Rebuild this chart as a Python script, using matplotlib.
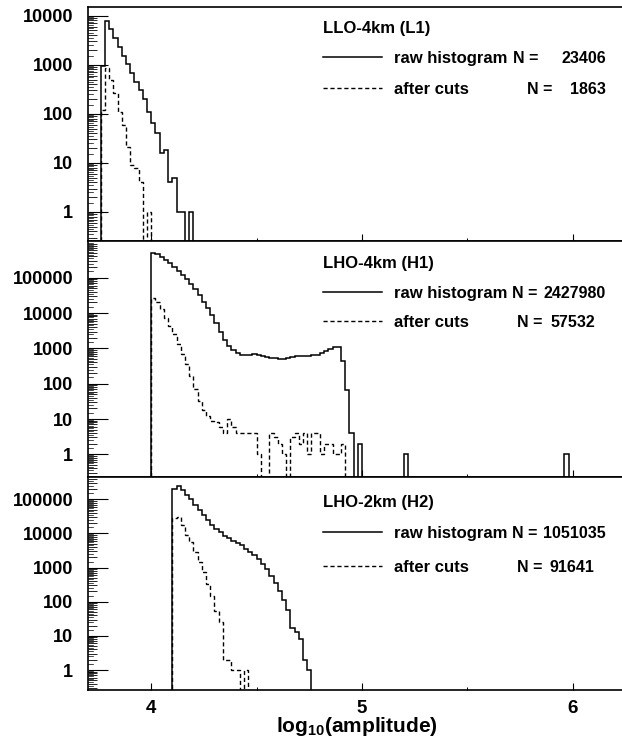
import numpy as np
import matplotlib
matplotlib.use("Agg")
import matplotlib.pyplot as plt
from matplotlib.ticker import FixedLocator, NullFormatter, FuncFormatter
from matplotlib.lines import Line2D

plt.rcParams['font.family'] = ['Liberation Sans', 'DejaVu Sans']
plt.rcParams['font.weight'] = 'bold'
plt.rcParams['mathtext.fontset'] = 'custom'
plt.rcParams['mathtext.rm'] = 'Liberation Sans:bold'
plt.rcParams['mathtext.it'] = 'Liberation Sans:bold'
plt.rcParams['mathtext.bf'] = 'Liberation Sans:bold'

# histogram data, bins of 0.02 in log10(amplitude)
bin_width = 0.02

# LLO-4km (L1)
l1_start = 3.76
l1_raw = [930, 7900, 5350, 3500, 2300, 1520, 1030, 680, 455, 310, 200,
          111, 65, 40, 16, 18, 4, 5, 1, 1, 0, 1]
l1_cut = [120, 860, 490, 270, 111, 59, 21, 9, 8, 4, 0, 1]

# LHO-4km (H1)
h1_start = 4.00
h1_raw = [513000, 468000, 398000, 316000, 257000, 200000, 155000, 120000,
          91000, 66000, 48000, 32000, 21000, 13800, 8900, 5100, 2950, 1740,
          1170, 870, 720, 630, 630, 660, 680, 630, 600, 575, 550, 525, 490,
          500, 550, 575, 590, 600, 615, 615, 630, 645, 720, 850, 980, 1070,
          1100, 430, 68, 4, 0, 2]
h1_cut = [26000, 20000, 12600, 7100, 4200, 2500, 1320, 710, 355, 166, 71,
          32, 18, 12, 9, 8, 6, 4, 10, 6, 4, 4, 4, 4, 4, 1, 0, 0, 4, 3, 2,
          1, 0, 3, 4, 2, 4, 1, 4, 4, 1, 2, 2, 1, 1, 2]
# isolated single-entry bins far out in the tail
h1_raw_extra_lo = [5.20, 5.96]
h1_raw_extra_n = [1, 1]

# LHO-2km (H2)
h2_start = 4.10
h2_raw = [204000, 240000, 182000, 138000, 100000, 69000, 48000, 34000,
          24000, 17800, 13800, 11000, 8700, 7200, 6200, 5200, 4600, 3600,
          2950, 2400, 1800, 1260, 890, 560, 355, 200, 112, 58, 17, 13, 8, 2, 1]
h2_cut = [28000, 30000, 17400, 9100, 5600, 2950, 1500, 720, 330, 145, 55,
          25, 2, 2, 1, 1, 0, 1]

names = ["LLO-4km (L1)", "LHO-4km (H1)", "LHO-2km (H2)"]
n_raw = ["23406", "2427980", "1051035"]
n_cut = ["1863", "57532", "91641"]

# figure layout in pixels (622 x 743)
W, H = 622, 743
def fx(px):
    return px / W
def fy(py):
    return 1 - py / H

fig = plt.figure(figsize=(W / 100, H / 100), dpi=100)

panel_px = [(7.3, 241.5), (241.5, 477.0), (477.0, 690.0)]
ylims = [(0.25, 14800), (0.228, 1.06e6), (0.26, 4.5e5)]
yticks = [[1, 10, 100, 1000, 10000],
          [1, 10, 100, 1000, 10000, 100000],
          [1, 10, 100, 1000, 10000, 100000]]
starts = [l1_start, h1_start, h2_start]
raws = [l1_raw, h1_raw, h2_raw]
cuts = [l1_cut, h1_cut, h2_cut]

# legend positions (pixels): title baseline, row baselines,
# "N =" x for each row, number right edge for each row
legend_px = [
    dict(title=33.3, r1=63.3, r2=94.3, n1=513, n2=527, e1=606, e2=606),
    dict(title=268.3, r1=297.7, r2=326.7, n1=512, n2=517, e1=606, e2=595),
    dict(title=506.7, r1=538.3, r2=571.7, n1=512, n2=517, e1=606, e2=594),
]

floor = 1e-3
dash = (0, (3, 2))
x0, x1 = 88, 626
for i in range(3):
    top, bot = panel_px[i]
    ax = fig.add_axes([fx(x0), fy(bot), (x1 - x0) / W, (bot - top) / H])
    ax.set_yscale('log')
    ax.set_xlim(3.7, 3.7 + (x1 - x0) / 210.8)
    lo, hi = ylims[i]
    ax.set_ylim(lo, hi)

    raw = np.array(raws[i], float)
    cut = np.array(cuts[i], float)
    e_raw = starts[i] + bin_width * np.arange(len(raw) + 1)
    e_cut = starts[i] + bin_width * np.arange(len(cut) + 1)
    ax.stairs(np.where(cut > 0, cut, floor), e_cut, baseline=floor,
              color='black', lw=1.0, linestyle=dash)
    ax.stairs(np.where(raw > 0, raw, floor), e_raw, baseline=floor,
              color='black', lw=1.1)
    if i == 1:
        for xlo, n in zip(h1_raw_extra_lo, h1_raw_extra_n):
            ax.stairs([n], [xlo, xlo + bin_width], baseline=floor,
                      color='black', lw=1.1)

    # axes styling
    for s in ['left', 'top', 'bottom']:
        ax.spines[s].set_linewidth(1.2)
    ax.spines['right'].set_visible(False)
    ax.yaxis.set_major_locator(FixedLocator(yticks[i]))
    ax.yaxis.set_major_formatter(FuncFormatter(lambda v, p: f"{v:.0f}"))
    subs = [m * 10.0 ** d for d in range(-1, 7) for m in range(2, 10)]
    ax.yaxis.set_minor_locator(FixedLocator(subs))
    ax.yaxis.set_minor_formatter(NullFormatter())
    ax.xaxis.set_major_locator(FixedLocator([4, 5, 6]))
    ax.xaxis.set_minor_locator(FixedLocator([4.5, 5.5]))
    ax.tick_params(axis='y', which='major', direction='in', length=14.4,
                   width=0.8, pad=10.8, labelsize=13, right=False)
    ax.tick_params(axis='y', which='minor', direction='in', length=6.5,
                   width=0.6, right=False)
    ax.tick_params(axis='x', which='major', direction='in', length=5,
                   width=0.8, pad=7, labelsize=13.5, top=False,
                   labelbottom=(i == 2))
    ax.tick_params(axis='x', which='minor', direction='in', length=2.2,
                   width=0.7, top=False)

    # shorter half-step ticks between the minor ones (ROOT style log axis)
    ytr = ax.get_yaxis_transform()
    for d in range(-1, 7):
        for m in np.arange(1.5, 10, 1.0):
            v = m * 10.0 ** d
            if lo < v < hi:
                ax.plot([0, 0.0085], [v, v], transform=ytr, color='black',
                        lw=0.5, clip_on=False)

    # legend box (text + line samples)
    lp = legend_px[i]
    fig.text(fx(323), fy(lp['title']), names[i], fontsize=12,
             ha='left', va='baseline')
    fig.text(fx(394), fy(lp['r1']), "raw histogram", fontsize=12,
             ha='left', va='baseline')
    fig.text(fx(394), fy(lp['r2']), "after cuts", fontsize=12,
             ha='left', va='baseline')
    fig.text(fx(lp['n1']), fy(lp['r1']), "N =", fontsize=11.5,
             ha='left', va='baseline')
    fig.text(fx(lp['n2']), fy(lp['r2']), "N =", fontsize=11.5,
             ha='left', va='baseline')
    fig.text(fx(lp['e1']), fy(lp['r1']), n_raw[i], fontsize=11.5,
             ha='right', va='baseline')
    fig.text(fx(lp['e2']), fy(lp['r2']), n_cut[i], fontsize=11.5,
             ha='right', va='baseline')
    y_line1 = lp['r1'] - 6
    y_line2 = lp['r2'] - 6
    fig.add_artist(Line2D([fx(323), fx(382)], [fy(y_line1), fy(y_line1)],
                          color='black', lw=1.1))
    fig.add_artist(Line2D([fx(323), fx(382)], [fy(y_line2), fy(y_line2)],
                          color='black', lw=1.0, linestyle=dash))

fig.text(fx(357), fy(727), r"log$_{10}$(amplitude)", fontsize=15,
         ha='center', va='center')

fig.savefig("out.png", dpi=100)
